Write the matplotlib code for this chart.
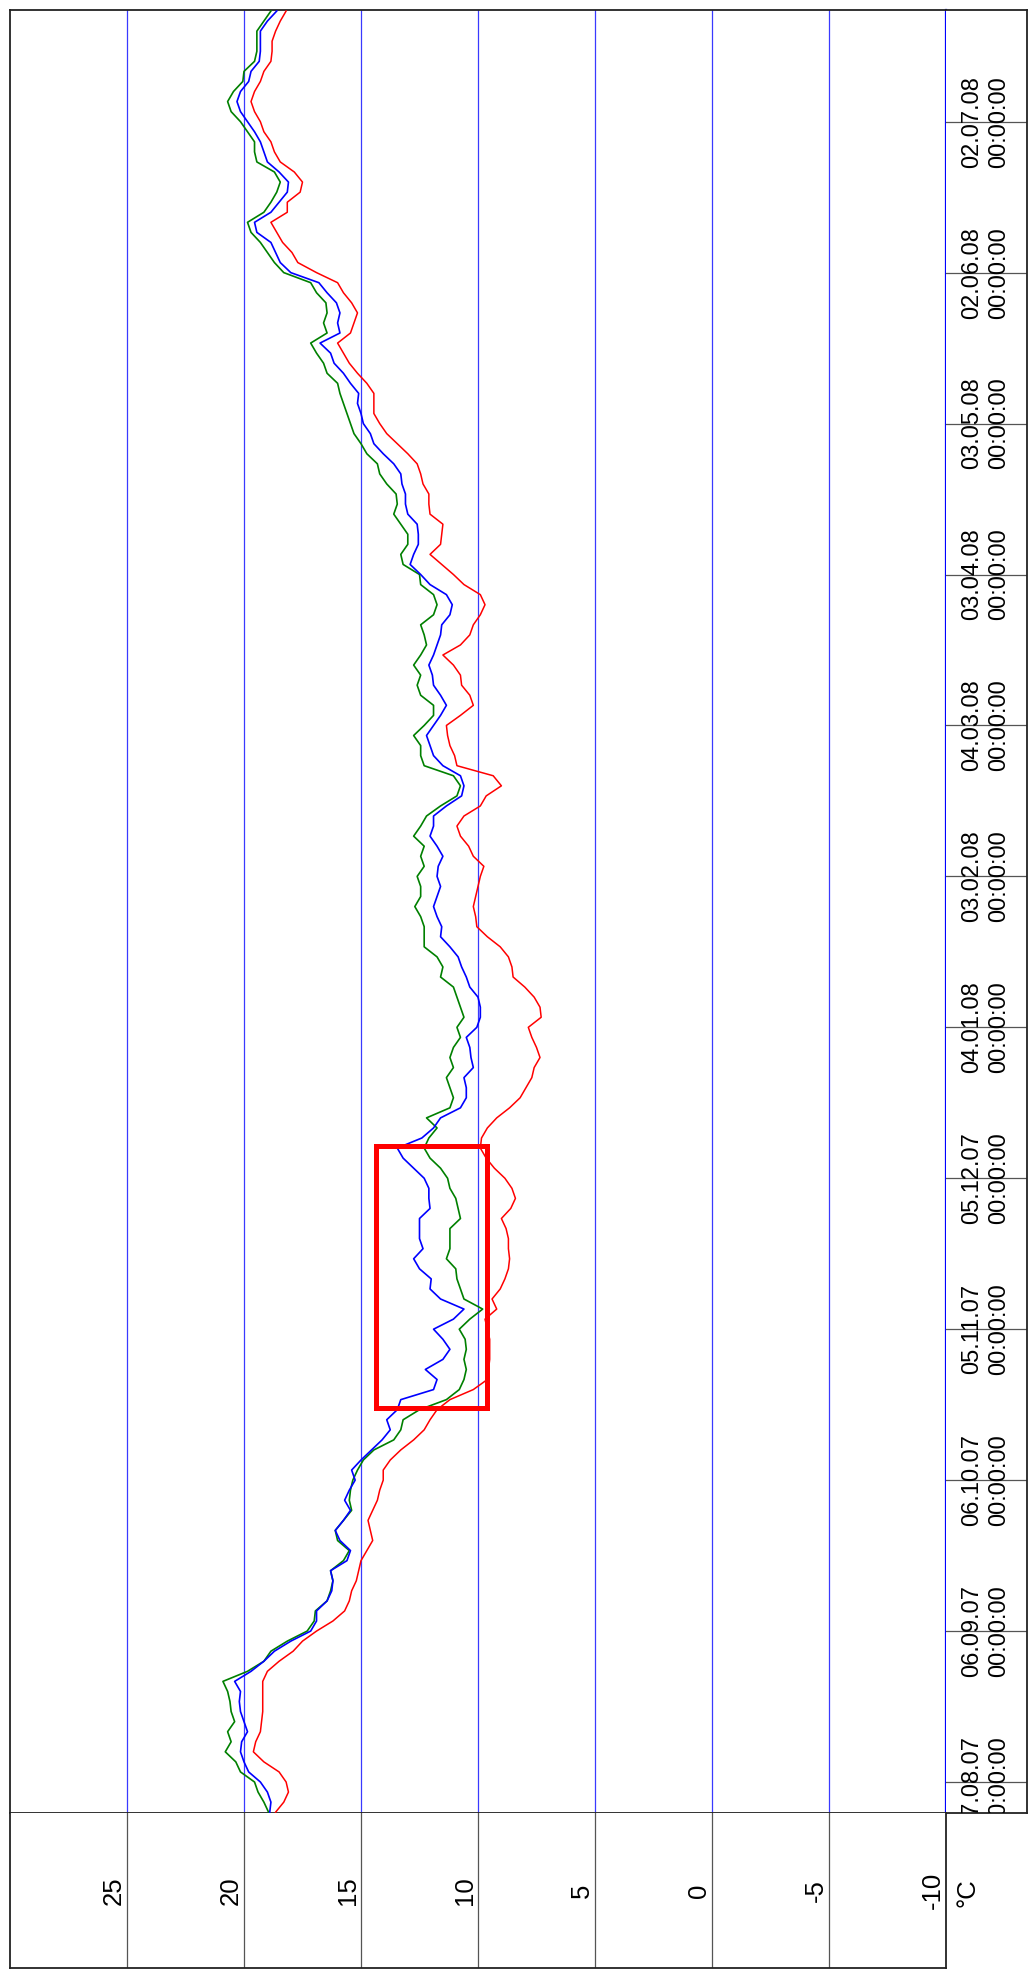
import datetime as dt
import numpy as np
import pandas as pd
import matplotlib
matplotlib.use("Agg")
import matplotlib.pyplot as plt
import matplotlib.dates as mdates
from matplotlib.patches import Rectangle

plt.rcParams['font.family'] = ['Liberation Sans', 'DejaVu Sans']

# ---------------- data (one value every 2 days from 01.08.2007) ----------------
start_date = "2007-08-01"
step_days = 2

red = [18.65, 18.3, 18.1, 18.2, 18.5, 19.15, 19.6, 19.5, 19.3, 19.25,
       19.2, 19.2, 19.2, 19.2, 19.0, 18.5, 17.9, 17.5, 16.9, 16.2,
       15.7, 15.5, 15.4, 15.2, 15.1, 15.0, 14.75, 14.5, 14.6, 14.7,
       14.5, 14.3, 14.2, 14.05, 14.05, 13.75, 13.3, 12.75, 12.3, 12.05,
       11.75, 11.2, 10.2, 9.6, 9.55, 9.5, 9.5, 9.5, 9.6, 9.7,
       9.2, 9.4, 9.05, 8.85, 8.7, 8.65, 8.7, 8.7, 8.8, 9.0,
       8.6, 8.4, 8.55, 8.85, 9.3, 9.65, 9.9, 9.85, 9.6, 9.2,
       8.65, 8.2, 7.95, 7.7, 7.6, 7.35, 7.5, 7.7, 7.85, 7.3,
       7.35, 7.6, 8.0, 8.5, 8.55, 8.7, 9.05, 9.6, 10.05, 10.1,
       10.2, 10.1, 10.0, 9.9, 9.75, 10.2, 10.4, 10.75, 10.9, 10.6,
       9.9, 9.65, 9.0, 9.35, 10.9, 11.0, 11.2, 11.3, 11.35, 10.75,
       10.2, 10.35, 10.7, 10.75, 11.05, 11.5, 10.75, 10.35, 10.2, 9.9,
       9.7, 9.9, 10.6, 11.05, 11.55, 12.05, 11.6, 11.55, 11.5, 12.05,
       12.1, 12.1, 12.35, 12.45, 12.6, 13.0, 13.45, 13.9, 14.2, 14.45,
       14.45, 14.45, 14.75, 15.15, 15.5, 15.75, 16.0, 15.45, 15.3, 15.15,
       15.4, 15.75, 16.0, 16.9, 17.7, 17.95, 18.35, 18.6, 18.85, 18.15,
       18.15, 17.6, 17.5, 17.85, 18.45, 18.7, 18.85, 19.15, 19.3, 19.55,
       19.7, 19.55, 19.3, 19.15, 18.85, 18.8, 18.8, 18.65, 18.45, 18.2]

blue = [18.9, 18.85, 19.0, 19.3, 19.8, 20.0, 20.15, 20.1, 19.85, 20.0,
        20.15, 20.2, 20.15, 20.4, 19.7, 19.15, 18.7, 18.0, 17.15, 16.9,
        16.9, 16.45, 16.25, 16.2, 16.3, 15.6, 15.45, 15.9, 16.1, 15.75,
        15.45, 15.7, 15.5, 15.25, 15.4, 15.0, 14.55, 14.1, 13.75, 13.9,
        13.45, 13.3, 11.9, 11.75, 12.25, 11.5, 11.2, 11.5, 11.9, 11.05,
        10.6, 11.6, 12.05, 12.0, 12.5, 12.75, 12.35, 12.5, 12.5, 12.5,
        12.05, 12.1, 12.1, 12.3, 12.75, 13.2, 13.45, 12.4, 11.9, 11.6,
        10.75, 10.5, 10.5, 10.6, 10.2, 10.3, 10.35, 10.5, 10.05, 9.9,
        9.9, 10.0, 10.35, 10.5, 10.7, 10.85, 11.2, 11.6, 11.55, 11.75,
        11.9, 11.75, 11.6, 11.75, 11.7, 11.5, 11.75, 12.05, 11.9, 11.9,
        11.35, 10.7, 10.6, 10.75, 11.5, 11.9, 12.05, 12.2, 11.9, 11.6,
        11.35, 11.6, 11.9, 11.95, 12.1, 11.9, 11.75, 11.6, 11.55, 11.2,
        11.1, 11.35, 12.05, 12.45, 12.9, 12.75, 12.55, 12.55, 12.6, 13.0,
        13.1, 13.1, 13.25, 13.3, 13.6, 14.05, 14.45, 14.6, 14.9, 15.0,
        15.15, 15.1, 15.45, 15.75, 16.15, 16.3, 16.75, 15.9, 16.0, 15.9,
        16.05, 16.45, 16.8, 18.0, 18.45, 18.65, 18.85, 19.45, 19.55, 18.85,
        18.5, 18.15, 18.1, 18.5, 19.0, 19.15, 19.3, 19.55, 19.85, 20.15,
        20.3, 20.15, 19.8, 19.7, 19.35, 19.3, 19.3, 19.3, 19.0, 18.6]

green = [18.95, 19.15, 19.4, 19.55, 20.15, 20.35, 20.8, 20.55, 20.7, 20.4,
         20.55, 20.6, 20.7, 20.9, 19.85, 19.15, 18.85, 18.15, 17.3, 17.0,
         16.95, 16.45, 16.3, 16.2, 16.3, 15.75, 15.5, 16.0, 16.1, 15.75,
         15.4, 15.5, 15.45, 15.35, 15.15, 14.9, 14.45, 13.6, 13.3, 13.2,
         12.5, 11.35, 10.8, 10.6, 10.5, 10.6, 10.5, 10.55, 10.8, 10.35,
         9.8, 10.6, 10.75, 10.9, 10.95, 11.35, 11.2, 11.2, 11.2, 10.75,
         10.85, 10.95, 11.2, 11.3, 11.6, 12.05, 12.3, 12.1, 11.75, 12.2,
         11.2, 11.05, 11.2, 11.35, 11.05, 11.2, 11.05, 10.75, 10.9, 10.6,
         10.75, 10.9, 11.05, 11.6, 11.5, 11.75, 12.3, 12.3, 12.3, 12.45,
         12.7, 12.45, 12.45, 12.6, 12.3, 12.45, 12.3, 12.75, 12.45, 12.2,
         11.6, 10.9, 10.75, 11.05, 12.3, 12.45, 12.45, 12.75, 12.3, 11.9,
         11.9, 12.45, 12.6, 12.45, 12.75, 12.45, 12.2, 12.3, 12.45, 11.9,
         11.75, 11.9, 12.45, 12.5, 13.2, 13.3, 13.0, 13.0, 13.3, 13.6,
         13.45, 13.5, 13.9, 14.2, 14.3, 14.75, 15.0, 15.3, 15.45, 15.6,
         15.75, 15.9, 16.0, 16.45, 16.6, 16.9, 17.15, 16.45, 16.6, 16.45,
         16.5, 16.9, 17.15, 18.3, 18.7, 19.0, 19.3, 19.7, 19.85, 19.15,
         18.85, 18.6, 18.45, 18.7, 19.45, 19.55, 19.55, 19.85, 20.15, 20.55,
         20.7, 20.45, 20.05, 20.0, 19.55, 19.45, 19.45, 19.45, 19.15, 18.85]

date_ticks = ["2007-08-07", "2007-09-06", "2007-10-06", "2007-11-05", "2007-12-05",
              "2008-01-04", "2008-02-03", "2008-03-04", "2008-04-03", "2008-05-03",
              "2008-06-02", "2008-07-02"]
temp_ticks = [25, 20, 15, 10, 5, 0, -5, -10]
temp_grid = [25, 20, 15, 10, 5, 0, -5]
unit_label = "°C"

# highlighted box (temperature range, date range)
box_temp = (9.63, 14.37)
box_dates = ("2007-10-20 07:00", "2007-12-11 10:00")

# ---------------- figure ----------------
W, H = 1033, 1977
fig = plt.figure(figsize=(W / 100, H / 100), dpi=100)
fig.patch.set_facecolor("white")


def fr(x0, y0, x1, y1):
    return [x0 / W, 1 - y1 / H, (x1 - x0) / W, (y1 - y0) / H]


ax = fig.add_axes(fr(10, 10, 946, 1813))
ax_d = fig.add_axes(fr(946, 10, 1027, 1813))
ax_t = fig.add_axes(fr(10, 1813, 946, 1968))

t0 = mdates.date2num(pd.Timestamp(start_date).to_pydatetime())
dates = pd.date_range(start_date, periods=len(red), freq=f"{step_days}D")
yd = mdates.date2num(dates.to_pydatetime())

ylo, yhi = t0 - 0.16, t0 + 358.2
for a in (ax, ax_d):
    a.set_ylim(ylo, yhi)
for a in (ax, ax_t):
    a.set_xlim(30, -10)
ax_d.set_xlim(0, 1)
ax_t.set_ylim(0, 1)

for a in (ax, ax_d, ax_t):
    a.set_xticks([])
    a.set_yticks([])
    for s in a.spines.values():
        s.set_linewidth(1.3)
        s.set_color("#222222")

# main plot spines
ax.spines["right"].set_color("#0000ff")
ax.spines["right"].set_linewidth(1.6)
ax_d.spines["left"].set_visible(False)
ax_t.spines["top"].set_visible(False)

# grid lines
for v in temp_grid:
    ax.axvline(v, color="#3a3aff", lw=0.9, zorder=1)
    ax_t.axvline(v, color="#555555", lw=0.9, zorder=1)

# data
ax.plot(green, yd, color="#008000", lw=1.2, zorder=3)
ax.plot(blue, yd, color="#0000ff", lw=1.2, zorder=4)
ax.plot(red, yd, color="#ff0000", lw=1.1, zorder=5)

# highlight rectangle
b0 = mdates.date2num(pd.Timestamp(box_dates[0]).to_pydatetime())
b1 = mdates.date2num(pd.Timestamp(box_dates[1]).to_pydatetime())
ax.add_patch(Rectangle((box_temp[0], b0), box_temp[1] - box_temp[0], b1 - b0,
                       fill=False, edgecolor="#ff0000", lw=3.6, zorder=6))

# date tick lines and labels
for d in date_ticks:
    ts = pd.Timestamp(d)
    yv = mdates.date2num(ts.to_pydatetime())
    ax_d.axhline(yv, color="#555555", lw=0.9)
    lab = ts.strftime("%d.%m.%y") + "\n" + ts.strftime("%H:%M:%S")
    t = ax_d.text(0.49, yv, lab, rotation=90, ha="center", va="center",
                  fontsize=17, linespacing=1.25, rotation_mode="anchor")
    t.set_clip_box(ax_d.bbox)
    t.set_clip_on(True)

# temperature labels
for v in temp_ticks:
    ax_t.text(v + 0.05, 0.5, str(v), rotation=90, ha="right", va="center",
              fontsize=18.5)

fig.text(956 / W, 1 - 1893 / H, unit_label, rotation=90, ha="left", va="center",
         fontsize=18.5)

fig.savefig("out.png", dpi=100, facecolor="white")
